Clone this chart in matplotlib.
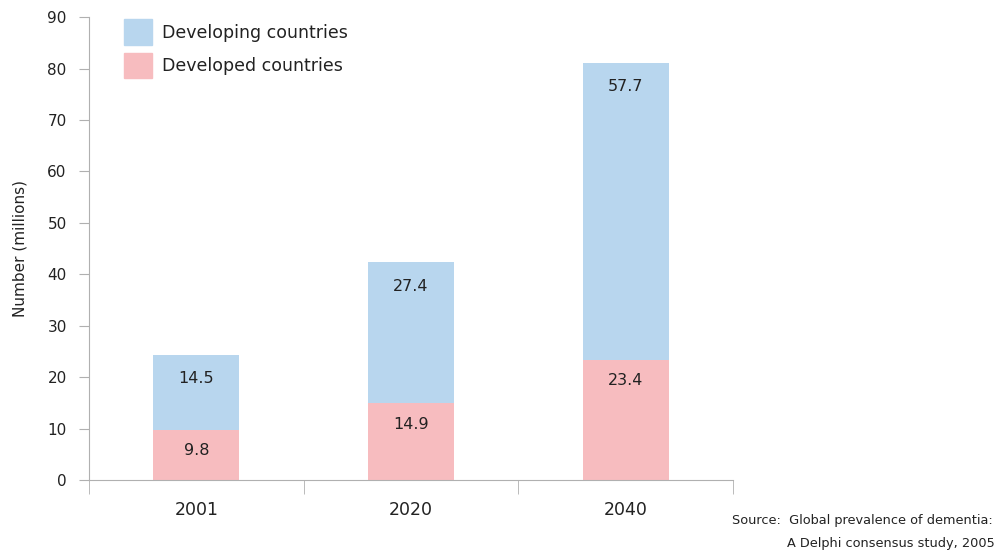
import matplotlib
matplotlib.use("Agg")
from matplotlib import pyplot as plt
from matplotlib.patches import Patch

years = ["2001", "2020", "2040"]
developed = [9.8, 14.9, 23.4]
developing = [14.5, 27.4, 57.7]

blue = "#b8d6ee"
pink = "#f7bcbf"
grey = "#b0b0b0"
ink = "#222222"

plt.rcParams["font.family"] = ["DejaVu Sans"]

fig = plt.figure(figsize=(10.04, 5.53), dpi=100)
ax = fig.add_axes([0.0886, 0.132, 0.6414, 0.837])

x = list(range(len(years)))
tops = [a + b for a, b in zip(developed, developing)]
ax.bar(x, developed, width=0.4, color=pink, zorder=2)
ax.bar(x, developing, width=0.4, bottom=developed, color=blue, zorder=2)

# value labels sit a little below the top of each segment
for xi, lo in zip(x, developed):
    ax.annotate(f"{lo}", (xi, lo), xytext=(0, -15), textcoords="offset points",
                ha="center", va="center", fontsize=11.5, color=ink)
for xi, hi, top in zip(x, developing, tops):
    ax.annotate(f"{hi}", (xi, top), xytext=(0, -17), textcoords="offset points",
                ha="center", va="center", fontsize=11.5, color=ink)

ax.set_xlim(-0.5, 2.5)
ax.set_ylim(0, 90)
ax.set_yticks(range(0, 91, 10))
ax.set_xticks(x)
ax.set_xticklabels(years, fontsize=12.5, color=ink)
ax.set_xticks([-0.5, 0.5, 1.5, 2.5], minor=True)
ax.tick_params(axis="x", which="major", length=0, pad=15)
ax.tick_params(axis="x", which="minor", length=10, color=grey)
ax.tick_params(axis="y", length=7, color=grey, labelsize=11, labelcolor=ink, pad=9)

for side in ["top", "right"]:
    ax.spines[side].set_visible(False)
for side in ["left", "bottom"]:
    ax.spines[side].set_color(grey)

ax.set_ylabel("Number (millions)", fontsize=11, color=ink, labelpad=14)

handles = [Patch(color=blue), Patch(color=pink)]
ax.legend(handles, ["Developing countries", "Developed countries"],
          loc="upper left", bbox_to_anchor=(0.036, 1.022), frameon=False,
          fontsize=12.5, handlelength=1.6, handleheight=1.9,
          handletextpad=0.6, labelspacing=0.45, labelcolor=ink,
          borderaxespad=0.3)

fig.text(0.729, 0.058, "Source:  Global prevalence of dementia:",
         fontsize=9.3, color=ink, ha="left", va="center")
fig.text(0.784, 0.018, "A Delphi consensus study, 2005",
         fontsize=9.3, color=ink, ha="left", va="center")

fig.savefig("out.png", dpi=100)
